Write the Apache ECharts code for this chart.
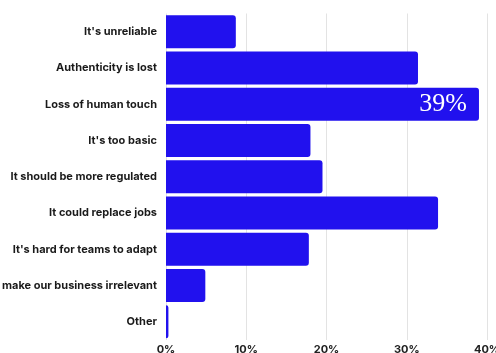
<!DOCTYPE html>
<html>
<head>
<meta charset="utf-8">
<script src="https://cdn.jsdelivr.net/npm/echarts@6/dist/echarts.min.js"></script>
<style>
  html, body { margin: 0; padding: 0; background: #fff; }
  #chart { width: 496px; height: 353px; }
</style>
</head>
<body>
<div id="chart"></div>
<script>
// Survey answers, top to bottom
const categories = [
  "It's unreliable",
  "Authenticity is lost",
  "Loss of human touch",
  "It's too basic",
  "It should be more regulated",
  "It could replace jobs",
  "It's hard for teams to adapt",
  "make our business irrelevant",
  "Other"
];
// Share of respondents (%)
const shares = [8.7, 31.4, 39, 18.0, 19.5, 33.9, 17.8, 4.9, 0.3];
// Only the leading answer carries a value label
const labelledCategory = "Loss of human touch";
const xTicks = [0, 10, 20, 30, 40];

const chart = echarts.init(document.getElementById('chart'));

const barData = shares.map((v, i) => {
  const item = { value: v };
  if (categories[i] === labelledCategory) {
    item.label = {
      show: true,
      position: 'insideRight',
      distance: 12,
      formatter: (p) => Math.round(p.value) + '%',
      color: '#ffffff',
      fontFamily: 'Liberation Serif',
      fontSize: 26,
      fontWeight: 'normal'
    };
  }
  return item;
});

chart.setOption({
  animation: false,
  grid: { left: 166, right: 9, top: 13.5, bottom: 13, outerBoundsMode: 'none', containLabel: false },
  xAxis: {
    type: 'value',
    min: xTicks[0],
    max: xTicks[xTicks.length - 1],
    interval: 10,
    axisLine: { show: false },
    axisTick: { show: false },
    splitLine: { show: true, lineStyle: { color: '#e3e3e3', width: 1 } },
    axisLabel: {
      formatter: '{value}%',
      color: '#222',
      fontFamily: 'Inter',
      fontWeight: 'bold',
      fontSize: 11,
      margin: 4
    }
  },
  yAxis: {
    type: 'category',
    inverse: true,
    data: categories,
    axisLine: { show: false },
    axisTick: { show: false },
    axisLabel: {
      color: '#1a1a1a',
      fontFamily: 'Inter',
      fontWeight: 'bold',
      fontSize: 11,
      margin: 9
    }
  },
  series: [{
    type: 'bar',
    data: barData,
    barCategoryGap: '9%',
    itemStyle: { color: '#2111ee', borderRadius: [0, 3, 3, 0] },
    label: { show: false }
  }]
});
</script>
</body>
</html>
